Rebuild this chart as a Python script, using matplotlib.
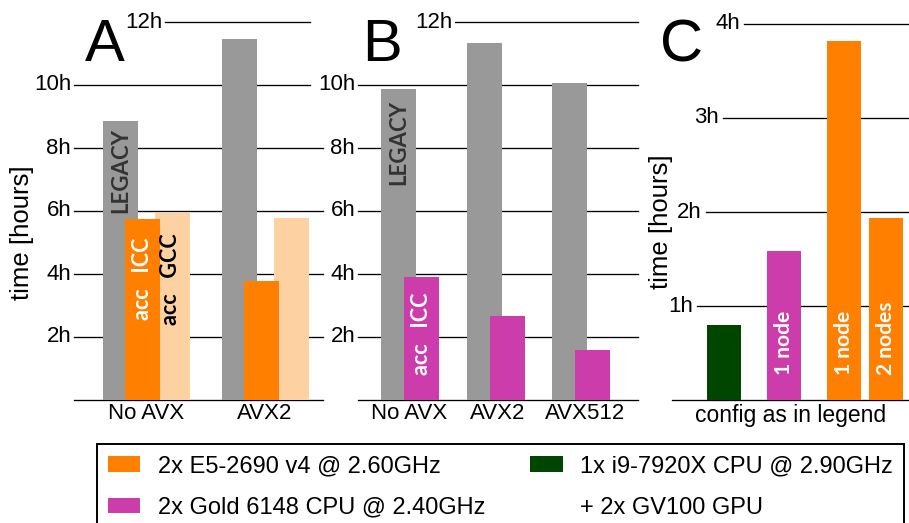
import matplotlib
matplotlib.use('Agg')
import matplotlib.pyplot as plt
from matplotlib.patches import Patch
from matplotlib.font_manager import FontProperties

W, H = 909, 523

# ---------------- data ----------------
A_categories = ['No AVX', 'AVX2']
A_legacy = [8.86, 11.46]
A_icc = [5.75, 3.78]
A_gcc = [5.94, 5.78]

B_categories = ['No AVX', 'AVX2', 'AVX512']
B_legacy = [9.87, 11.33, 10.06]
B_icc = [3.90, 2.67, 1.59]

C_values = [0.80, 1.585, 3.82, 1.94]
C_systems = ['gpu', 'gold', 'e5', 'e5']
C_bar_labels = ['', '1 node', '1 node', '2 nodes']

AB_ticks = [0, 2, 4, 6, 8, 10, 12]
AB_ticklabels = ['', '2h', '4h', '6h', '8h', '10h', '12h']
C_ticks = [0, 1, 2, 3, 4]
C_ticklabels = ['', '1h', '2h', '3h', '4h']

legend_labels = ['2x E5-2690 v4 @ 2.60GHz', '2x Gold 6148 CPU @ 2.40GHz',
                 '1x i9-7920X CPU @ 2.90GHz', '+ 2x GV100 GPU']

# ---------------- style ----------------
GRAY = '#999999'
ORANGE = '#FF8000'
LIGHT = '#FDD1A2'
MAGENTA = '#CC3CAA'
GREEN = '#004600'
SYS_COLORS = {'e5': ORANGE, 'gold': MAGENTA, 'gpu': GREEN}

TICKFONT = dict(family=['Liberation Sans', 'DejaVu Sans'], size=16)
BARFONT = ['Lato', 'DejaVu Sans']

fig = plt.figure(figsize=(W / 100, H / 100), dpi=100)


def make_axes(left, right, bottom, top):
    return fig.add_axes([left / W, (H - bottom) / H, (right - left) / W, (bottom - top) / H])


def style_axes(ax):
    for s in ax.spines.values():
        s.set_visible(False)
    ax.tick_params(left=False, labelleft=False, bottom=False, length=0, pad=2)
    ax.set_yticks([])


def grid(ax, ticks, labels, xstarts, xends, offset):
    for t, lab, xs, xe in zip(ticks, labels, xstarts, xends):
        ax.axhline(t, xmin=xs, xmax=xe, color='black', lw=0.95, zorder=0, clip_on=False)
        if lab:
            ax.annotate(lab, xy=(xs, t), xycoords=('axes fraction', 'data'),
                        xytext=(offset, 0), textcoords='offset points',
                        ha='right', va='center', fontproperties=FontProperties(**TICKFONT),
                        annotation_clip=False)


# ---------------- panel A ----------------
axA = make_axes(74, 323, 400, 22)
style_axes(axA)
axA.set_ylim(0, 12)
axA.set_xlim(0, 249 / 35)
A_centers = [1.96, 5.36]
A_gray_x = [c - 0.63 for c in A_centers]
A_light_x = [c + 0.84 for c in A_centers]
axA.bar(A_gray_x, A_legacy, width=1.0, color=GRAY, zorder=2)
axA.bar(A_light_x, A_gcc, width=1.0, color=LIGHT, zorder=2)
axA.bar(A_centers, A_icc, width=1.0, color=ORANGE, zorder=3)
grid(axA, AB_ticks, AB_ticklabels,
     [0, 0, 0, 0, 0, 0, 0.365], [1, 1, 1, 1, 1, 0.948, 0.948], -2)
axA.set_xticks([c + 0.1 for c in A_centers])
axA.set_xticklabels(A_categories, fontproperties=FontProperties(**TICKFONT))

axA.text(A_gray_x[0], 8.63, 'LEGACY', rotation=90, ha='center', va='top',
         color='#333333', fontsize=16, fontweight='bold', family=BARFONT, zorder=4)
axA.text(A_centers[0], A_icc[0] - 0.58, 'acc   ICC', rotation=90, ha='center', va='top',
         color='white', fontsize=15.5, fontweight='bold', family=BARFONT, zorder=4)
axA.text(A_light_x[0] - 0.04, A_gcc[0] - 0.64, 'acc   GCC', rotation=90, ha='center', va='top',
         color='black', fontsize=15.5, fontweight='bold', family=BARFONT, zorder=4)

# ---------------- panel B ----------------
axB = make_axes(358, 638, 400, 22)
style_axes(axB)
axB.set_ylim(0, 12)
axB.set_xlim(0, 8)
B_gray_x = [1.16 + 2.44 * i for i in range(len(B_categories))]
B_mag_x = [g + 0.66 for g in B_gray_x]
axB.bar(B_gray_x, B_legacy, width=1.0, color=GRAY, zorder=2)
axB.bar(B_mag_x, B_icc, width=1.0, color=MAGENTA, zorder=3)
grid(axB, AB_ticks, AB_ticklabels, [0, 0, 0, 0, 0, 0, 0.346], [1] * 7, -2)
axB.set_xticks([1.46, 4.0, 6.5])
axB.set_xticklabels(B_categories, fontproperties=FontProperties(**TICKFONT))
axB.text(B_gray_x[0], 9.52, 'LEGACY', rotation=90, ha='center', va='top',
         color='#333333', fontsize=16, fontweight='bold', family=BARFONT, zorder=4)
axB.text(B_mag_x[0], B_icc[0] - 0.5, 'acc   ICC', rotation=90, ha='center', va='top',
         color='white', fontsize=15.5, fontweight='bold', family=BARFONT, zorder=4)

# ---------------- panel C ----------------
axC = make_axes(672, 909, 400, 24)
style_axes(axC)
axC.set_ylim(0, 4)
axC.set_xlim(0, 237 / 34)
C_x = [1.53, 3.29, 5.06, 6.29]
axC.bar(C_x, C_values, width=1.0, color=[SYS_COLORS[s] for s in C_systems], zorder=2)
grid(axC, C_ticks, C_ticklabels, [0, 0.105, 0.143, 0.215, 0.304], [1] * 5, -3)
axC.set_xticks([])
axC.set_xlabel('config as in legend', fontsize=16.5,
               family=['Liberation Sans', 'DejaVu Sans'], labelpad=3)
for x, lab in zip(C_x, C_bar_labels):
    if lab:
        axC.text(x, 0.27, lab, rotation=90, ha='center', va='bottom', color='white',
                 fontsize=15, fontweight='bold', family=BARFONT, zorder=4)

# ---------------- labels ----------------
YLFONT = dict(fontsize=18.5, family=['Liberation Sans', 'DejaVu Sans'])
fig.text(22 / W, 1 - 233 / H, 'time [hours]', rotation=90, ha='center', va='center', **YLFONT)
fig.text(661 / W, 1 - 222 / H, 'time [hours]', rotation=90, ha='center', va='center', **YLFONT)

LETTER = dict(fontsize=43, family=['Liberation Sans', 'DejaVu Sans'], ha='left', va='baseline')
fig.text(85 / W, 1 - 61 / H, 'A', **LETTER)
fig.text(362 / W, 1 - 61 / H, 'B', **LETTER)
fig.text(660 / W, 1 - 61 / H, 'C', **LETTER)

# ---------------- legend ----------------
handles = [Patch(facecolor=ORANGE), Patch(facecolor=MAGENTA), Patch(facecolor=GREEN),
           Patch(facecolor='none', edgecolor='none')]
leg = fig.legend(handles, legend_labels, ncol=2, loc='upper left',
                 bbox_to_anchor=(97 / W, 1 - 444 / H), borderaxespad=0,
                 prop=FontProperties(family=['Liberation Sans', 'DejaVu Sans'], size=17),
                 frameon=True, fancybox=False, framealpha=1, edgecolor='black',
                 handlelength=1.36, handleheight=0.64, handletextpad=0.76,
                 columnspacing=1.9, labelspacing=0.83, borderpad=0.47)
leg.get_frame().set_linewidth(1.4)

fig.savefig('out.png', dpi=100)
